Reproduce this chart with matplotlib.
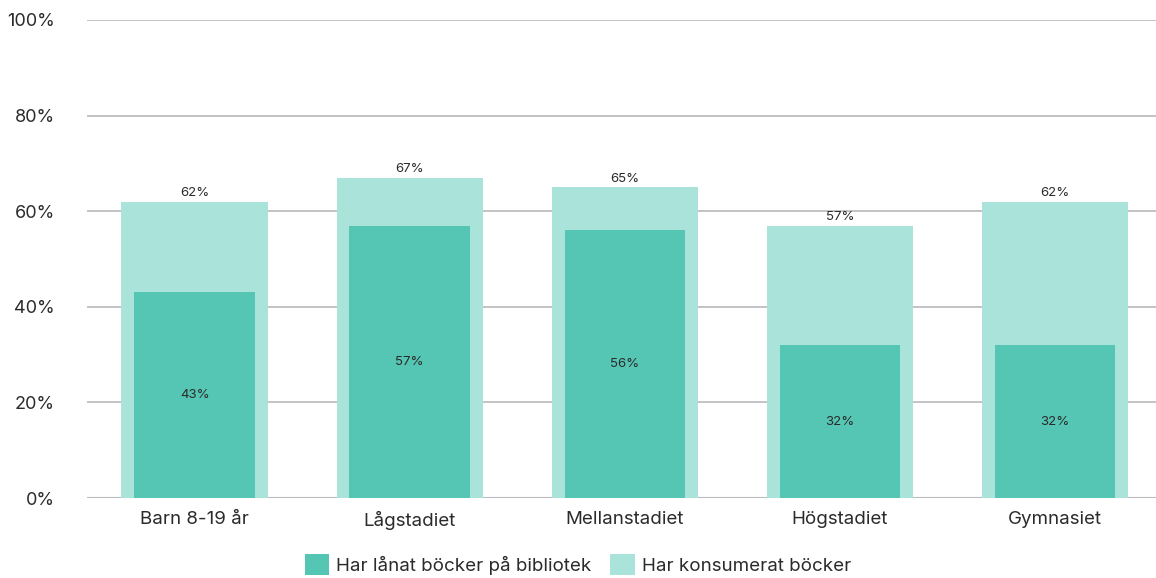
import numpy as np
import matplotlib.pyplot as plt
from matplotlib.ticker import FuncFormatter

# data
categories = ["Barn 8-19 år", "Lågstadiet", "Mellanstadiet", "Högstadiet", "Gymnasiet"]
konsumerat = [62, 67, 65, 57, 62]
lanat = [43, 57, 56, 32, 32]

LIGHT = "#A9E3DA"
DARK = "#56C6B4"
TEXT = "#2b2b2b"

plt.rcParams['font.family'] = ['Inter', 'DejaVu Sans']

fig = plt.figure(figsize=(11.56, 5.78), dpi=100)
ax = fig.add_axes([0.0753, 0.1384, 0.9247, 0.827])

x = np.arange(len(categories))
light_bars = ax.bar(x, konsumerat, width=0.68, color=LIGHT, zorder=2,
                    label="Har konsumerat böcker")
dark_bars = ax.bar(x, lanat, width=0.56, color=DARK, zorder=3,
                   label="Har lånat böcker på bibliotek")

for xi, v in zip(x, konsumerat):
    ax.annotate(f"{v}%", (xi, v), xytext=(0, 2), textcoords="offset points",
                ha="center", va="bottom", fontsize=9.5, color=TEXT, zorder=4)
for xi, v in zip(x, lanat):
    ax.text(xi, v / 2, f"{v}%", ha="center", va="center", fontsize=9.5,
            color=TEXT, zorder=4)

ax.set_ylim(0, 100)
ax.set_xlim(-0.5, 4.47)
ax.set_yticks(np.arange(0, 101, 20))
ax.yaxis.set_major_formatter(FuncFormatter(lambda v, p: f"{int(v)}%"))
ax.set_xticks(x)
ax.set_xticklabels(categories)
ax.grid(axis="y", color="#BEBEC2", linewidth=1.3, zorder=0)
ax.axhline(0, color="#ABABAF", linewidth=1.5, zorder=1)
for s in ax.spines.values():
    s.set_visible(False)
ax.tick_params(axis="y", length=0, labelsize=13, colors=TEXT, pad=23)
ax.tick_params(axis="x", length=0, labelsize=13.5, colors=TEXT, pad=9)

handles = [dark_bars, light_bars]
leg = fig.legend(handles, [h.get_label() for h in handles], loc="center",
                 bbox_to_anchor=(0.5, 0.023), ncol=2, frameon=False,
                 fontsize=13.5, handlelength=1.3, handleheight=1.3,
                 handletextpad=0.4, columnspacing=1.0)
for t in leg.get_texts():
    t.set_color(TEXT)

fig.savefig("out.png", dpi=100)
